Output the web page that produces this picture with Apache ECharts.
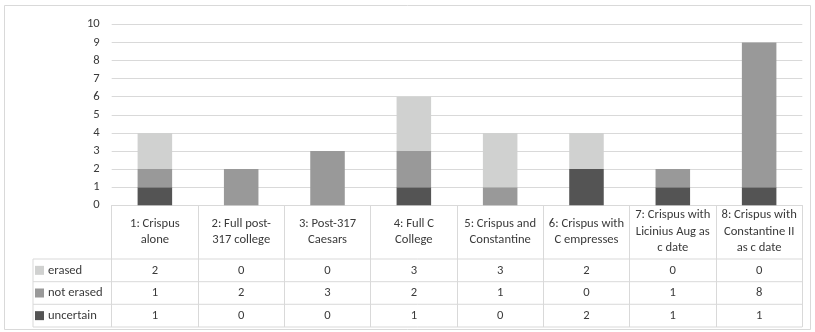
<!DOCTYPE html>
<html>
<head>
<meta charset="utf-8">
<script src="https://cdn.jsdelivr.net/npm/echarts@6/dist/echarts.min.js"></script>
<style>
  html, body { margin: 0; padding: 0; background: #fff; }
  #chart { width: 815px; height: 332px; }
</style>
</head>
<body>
<div id="chart"></div>
<script>
// Category names (line breaks as they appear in the table header)
const categories = [
  '1: Crispus\nalone',
  '2: Full post-\n317 college',
  '3: Post-317\nCaesars',
  '4: Full C\nCollege',
  '5: Crispus and\nConstantine',
  '6: Crispus with\nC empresses',
  '7: Crispus with\nLicinius Aug as\nc date',
  '8: Crispus with\nConstantine II\nas c date'
];
const erased    = [2, 0, 0, 3, 3, 2, 0, 0];
const notErased = [1, 2, 3, 2, 1, 0, 1, 8];
const uncertain = [1, 0, 0, 1, 0, 2, 1, 1];
const yTicks = { min: 0, max: 10, interval: 1 };

// Table rows, top to bottom
const tableRows = [
  { name: 'erased',      values: erased,    color: '#d0d1d0' },
  { name: 'not erased',  values: notErased, color: '#999999' },
  { name: 'uncertain',   values: uncertain, color: '#545454' }
];

const FONT = 'Carlito, Lato, sans-serif';
const FS = 12.6;
const TEXT = '#3a3a3a';
const LINE = '#d9d9d9';

// Layout
const gridLeft = 111.7, gridRight = 802.3, gridTop = 24.3, gridBottom = 205.3;
const headerBottom = 259;
const rowLines = [259, 281.7, 304.3, 327];
const tableLeft = 33;

const chart = echarts.init(document.getElementById('chart'), null, { renderer: 'canvas' });

const xAxes = [{
  type: 'category',
  data: categories,
  position: 'bottom',
  axisLine: { show: true, lineStyle: { color: LINE, width: 1 } },
  axisTick: { show: true, interval: 0, length: rowLines[3] - gridBottom, lineStyle: { color: LINE } },
  axisLabel: {
    interval: 0, fontFamily: FONT, fontSize: FS, color: TEXT,
    lineHeight: 16.5, verticalAlign: 'middle', margin: (gridBottom + headerBottom) / 2 - gridBottom - 0.5
  }
}];
tableRows.forEach((row, i) => {
  const center = (rowLines[i] + rowLines[i + 1]) / 2;
  xAxes.push({
    type: 'category',
    data: row.values.map(String),
    position: 'bottom',
    offset: 0,
    axisLine: { show: false },
    axisTick: { show: false },
    axisLabel: {
      interval: 0, fontFamily: FONT, fontSize: FS, color: TEXT,
      verticalAlign: 'middle', margin: center - gridBottom
    }
  });
});

// Table borders and the legend column
const graphics = [];
rowLines.forEach(y => {
  graphics.push({
    type: 'line', silent: true,
    shape: { x1: tableLeft, y1: y, x2: gridRight, y2: y },
    style: { stroke: LINE, lineWidth: 1 }
  });
});
graphics.push({
  type: 'line', silent: true,
  shape: { x1: tableLeft, y1: rowLines[0], x2: tableLeft, y2: rowLines[3] },
  style: { stroke: LINE, lineWidth: 1 }
});
tableRows.forEach((row, i) => {
  const center = (rowLines[i] + rowLines[i + 1]) / 2;
  graphics.push({
    type: 'rect', silent: true,
    shape: { x: 35, y: center - 4.5, width: 9, height: 9 },
    style: { fill: row.color }
  });
  graphics.push({
    type: 'text', silent: true,
    style: {
      x: 48, y: center, text: row.name, fill: TEXT,
      font: FS + 'px ' + FONT, verticalAlign: 'middle', align: 'left'
    }
  });
});
// Outer frame
graphics.push({
  type: 'rect', silent: true,
  shape: { x: 4.5, y: 5.5, width: 806, height: 324 },
  style: { fill: null, stroke: LINE, lineWidth: 1 }
});

const barCommon = { type: 'bar', stack: 'total', barWidth: '40%', xAxisIndex: 0, yAxisIndex: 0 };

chart.setOption({
  animation: false,
  backgroundColor: '#fff',
  grid: { left: gridLeft, right: 815 - gridRight, top: gridTop, bottom: 332 - gridBottom, containLabel: false },
  xAxis: xAxes,
  yAxis: {
    type: 'value', min: yTicks.min, max: yTicks.max, interval: yTicks.interval,
    axisLine: { show: false }, axisTick: { show: false },
    axisLabel: { fontFamily: FONT, fontSize: FS, color: TEXT, margin: 12 },
    splitLine: { lineStyle: { color: LINE, width: 1 } }
  },
  series: [
    Object.assign({ name: 'uncertain', data: uncertain, itemStyle: { color: tableRows[2].color } }, barCommon),
    Object.assign({ name: 'not erased', data: notErased, itemStyle: { color: tableRows[1].color } }, barCommon),
    Object.assign({ name: 'erased', data: erased, itemStyle: { color: tableRows[0].color } }, barCommon)
  ],
  graphic: graphics
});
</script>
</body>
</html>
